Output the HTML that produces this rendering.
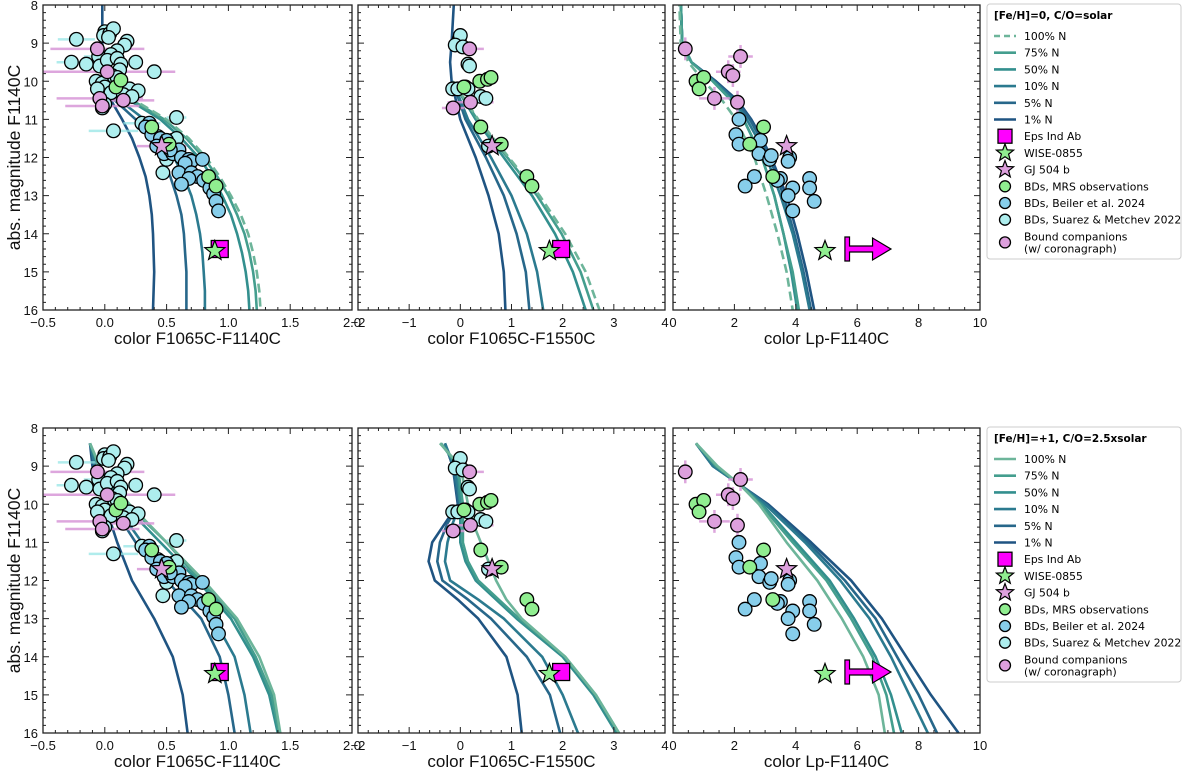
<!DOCTYPE html>
<html><head><meta charset="utf-8">
<style>
html,body{margin:0;padding:0;background:#fff;}
svg{display:block;font-family:"Liberation Sans","DejaVu Sans",sans-serif;}
</style></head>
<body>
<svg id="fig" width="1183" height="773" viewBox="0 0 1183 773" xmlns="http://www.w3.org/2000/svg"></svg>
<script>
// ---------- DATA ----------
const modelLabels = ["100% N","75% N","50% N","10% N","5% N","1% N"];
const modelColors = ["#6db59a","#449e8e","#338f8e","#2b7a8f","#27678a","#1f5482"];

// Top row models (solar)
const t1Mag = [10,10.5,11,11.5,12,12.5,13,13.5,14,14.5,15,15.5,16];
const t1C100 = [0.0,0.24,0.5,0.68,0.82,0.93,1.02,1.1,1.16,1.2,1.23,1.25,1.26];
const t1C75  = [0.0,0.22,0.48,0.66,0.8,0.91,1.0,1.07,1.13,1.17,1.2,1.22,1.23];
const t1C50  = [0.0,0.2,0.45,0.62,0.76,0.87,0.95,1.02,1.07,1.11,1.14,1.16,1.17];
const t1C10  = [0.0,0.12,0.32,0.46,0.56,0.64,0.7,0.74,0.77,0.79,0.8,0.81,0.81];
const t1C5   = [0.0,0.08,0.25,0.37,0.46,0.53,0.58,0.62,0.64,0.65,0.66,0.66,0.66];
const t1Mag1 = [7.8,9,10,10.5,11,11.5,12,12.5,13,13.5,14,15,16];
const t1C1   = [-0.02,-0.02,0,0.05,0.14,0.22,0.28,0.33,0.36,0.38,0.39,0.4,0.39];

const t2Mag = [10,11,12,13,14,15,16];
const t2C100 = [-0.15,0.35,0.95,1.55,2.05,2.45,2.72];
const t2C75  = [-0.15,0.33,0.92,1.5,1.98,2.35,2.6];
const t2C50  = [-0.15,0.3,0.85,1.4,1.85,2.2,2.45];
const t2C10  = [-0.15,0.15,0.6,1.0,1.3,1.5,1.62];
const t2C5   = [-0.15,0.1,0.5,0.85,1.1,1.28,1.35];
const t2Mag1 = [7.8,9,9.5,10,11,12,13,14,15,16];
const t2C1   = [-0.12,-0.17,-0.2,-0.17,0.0,0.3,0.55,0.75,0.85,0.88];

const t3Mag = [7.8,9,9.5,10,10.5,11,11.5,12,13,14,15,16];
const t3C100 = [0.2,0.25,0.5,1.0,1.6,2.05,2.35,2.65,3.05,3.4,3.7,3.9];
const t3C75  = [0.25,0.3,0.6,1.3,1.9,2.3,2.6,2.9,3.3,3.6,3.9,4.1];
const t3C50  = [0.25,0.3,0.6,1.3,1.9,2.3,2.6,2.9,3.3,3.6,3.85,4.05];
const t3C10  = [0.25,0.3,0.6,1.35,2.0,2.4,2.75,3.05,3.5,3.9,4.2,4.45];
const t3C5   = [0.25,0.3,0.6,1.35,2.05,2.5,2.85,3.15,3.6,3.95,4.25,4.5];
const t3C1   = [0.25,0.3,0.6,1.4,2.1,2.55,2.9,3.2,3.7,4.05,4.35,4.6];

// Bottom row models (+1, 2.5x solar)
const b1Mag = [8.4,9,10,11,12,13,14,15,16];
const b1C100 = [-0.12,-0.04,0.2,0.5,0.8,1.07,1.25,1.37,1.42];
const b1C75  = [-0.12,-0.05,0.18,0.5,0.77,1.05,1.22,1.35,1.41];
const b1C50  = [-0.12,-0.05,0.15,0.45,0.75,1.02,1.2,1.33,1.4];
const b1C10  = [-0.12,-0.08,0.08,0.3,0.58,0.88,1.05,1.13,1.18];
const b1C5   = [-0.12,-0.08,0.05,0.25,0.5,0.78,0.93,1.0,1.05];
const b1C1   = [-0.12,-0.1,0.0,0.1,0.22,0.4,0.55,0.63,0.67];

const b2Mag = [8.4,9,10,10.5,11,11.5,12,12.5,13,14,15,16];
const b2C100 = [-0.4,0.0,0.15,0.25,0.4,0.55,0.7,0.9,1.2,2.05,2.65,3.1];
const b2C75  = [-0.38,-0.05,0.05,0.05,0.05,0.15,0.35,0.75,1.15,2.05,2.65,3.1];
const b2C50  = [-0.38,-0.05,0.0,0.0,0.0,0.1,0.3,0.7,1.1,2.0,2.6,3.05];
const b2C10  = [-0.3,-0.12,0.0,-0.15,-0.25,-0.3,-0.2,0.35,0.85,1.6,2.0,2.3];
const b2C5   = [-0.3,-0.15,-0.03,-0.25,-0.4,-0.45,-0.35,0.15,0.6,1.3,1.75,1.95];
const b2C1   = [-0.3,-0.15,-0.05,-0.3,-0.55,-0.62,-0.5,-0.05,0.35,0.9,1.12,1.2];

const b3Mag = [8.4,9,9.5,10,11,12,13,14,15,16];
const b3C100 = [0.75,1.45,2.2,2.8,3.7,4.7,5.5,6.2,6.7,6.9];
const b3C75  = [0.75,1.4,2.2,2.85,3.9,5.0,5.8,6.5,6.95,7.2];
const b3C50  = [0.75,1.4,2.2,2.9,4.0,5.1,5.9,6.6,7.1,7.45];
const b3C10  = [0.75,1.3,2.2,3.0,4.3,5.45,6.4,7.1,7.7,8.3];
const b3C5   = [0.75,1.3,2.2,3.05,4.4,5.6,6.6,7.3,8.0,8.6];
const b3C1   = [0.75,1.3,2.2,3.1,4.5,5.8,6.8,7.6,8.4,9.3];

// Observations: panel 1 (F1065C-F1140C)
const p1SuarezX = [0.0,-0.01,0.04,0.07,0.03,-0.23,0.18,0.16,0.1,-0.05,0.05,-0.27,-0.15,-0.04,0.02,0.1,0.13,0.25,0.12,0.4,0.06,0.1,-0.07,-0.02,0.0,0.12,0.2,0.27,-0.06,0.05,0.15,0.22,0.0,-0.02,0.07,0.58,0.3,0.55,0.58,0.43,0.5,0.47];
const p1SuarezY = [8.7,8.8,8.75,8.62,8.85,8.9,8.95,9.05,9.2,9.35,9.3,9.5,9.55,9.6,9.45,9.4,9.55,9.5,9.7,9.75,9.85,9.9,10.0,10.05,10.15,10.1,10.2,10.25,10.2,10.3,10.35,10.4,10.6,10.7,11.3,10.95,11.1,11.55,11.5,11.45,12.05,12.4];
const p1SuarezErr = [0,0,0,0,0,0.15,0,0,0,0.12,0,0.12,0,0,0,0,0,0,0,0,0,0,0,0,0,0,0,0,0,0,0,0,0,0,0.2,0.08,0.15,0.08,0,0,0,0];
const p1BeilerX = [0.36,0.33,0.38,0.45,0.5,0.42,0.48,0.55,0.6,0.62,0.68,0.7,0.79,0.65,0.6,0.7,0.75,0.68,0.8,0.62,0.85,0.88,0.9,0.92,0.53];
const p1BeilerY = [11.1,11.2,11.4,11.5,11.55,11.7,11.9,11.9,11.8,12.0,12.05,12.1,12.05,12.15,12.4,12.4,12.5,12.55,12.6,12.7,12.8,12.95,13.15,13.4,11.8];
const p1MrsX = [0.09,0.13,0.38,0.52,0.84,0.9];
const p1MrsY = [10.15,9.97,11.2,11.65,12.5,12.75];
const p1BoundX = [-0.06,0.02,-0.04,-0.02,0.15];
const p1BoundY = [9.15,9.75,10.45,10.65,10.5];
const p1BoundErr = [0.38,0.55,0.35,0.3,0.25];
const p1GjX = [0.46], p1GjY = [11.7], p1GjErr = [0.2];
const p1EpsX = [0.93], p1EpsY = [14.4];
const p1WiseX = [0.89], p1WiseY = [14.45];

// panel 2 (F1065C-F1550C)
const p2SuarezX = [-0.02,0.0,-0.1,0.05,0.15,0.18,-0.15,-0.05,0.1,0.15,0.4,0.5,0.55];
const p2SuarezY = [8.9,8.8,9.05,9.1,9.55,9.6,10.2,10.2,10.15,10.2,10.4,10.45,11.7];
const p2MrsX = [0.38,0.53,0.6,0.07,0.4,0.8,1.3,1.4];
const p2MrsY = [10.0,9.95,9.9,10.15,11.2,11.65,12.5,12.75];
const p2BoundX = [0.18,0.2,-0.14];
const p2BoundY = [9.15,10.55,10.7];
const p2BoundErr = [0.28,0.45,0.22];
const p2GjX = [0.62], p2GjY = [11.7];
const p2EpsX = [1.97], p2EpsY = [14.4];
const p2WiseX = [1.74], p2WiseY = [14.45];

// panel 3 (Lp-F1140C)
const p3BeilerX = [2.15,2.05,2.15,2.85,2.8,3.15,3.2,3.8,2.65,3.5,3.4,2.35,3.9,3.75,4.45,4.45,4.6,3.9,3.75];
const p3BeilerY = [11.0,11.4,11.65,11.55,11.9,12.05,11.95,12.0,12.5,12.55,12.6,12.75,12.8,13.0,12.55,12.8,13.15,13.4,12.1];
const p3MrsX = [0.75,1.0,0.85,2.95,2.5,3.25];
const p3MrsY = [10.0,9.9,10.2,11.2,11.65,12.5];
const p3BoundX = [0.4,2.2,1.8,1.95,1.35,2.1];
const p3BoundY = [9.15,9.35,9.75,9.85,10.45,10.55];
const p3BoundErr = [0.1,0.4,0.4,0.1,0.5,0.1];
const p3GjX = [3.7], p3GjY = [11.7];
const p3WiseX = [4.95], p3WiseY = [14.45];
const p3EpsLimX = [5.6], p3EpsLimY = [14.4];

const xTicks1 = ["-0.5","0.0","0.5","1.0","1.5","2.0"];
const xTicks2 = ["-2","-1","0","1","2","3","4"];
const xTicks3 = ["0","2","4","6","8","10"];
const yTicks = ["8","9","10","11","12","13","14","15","16"];

// ---------- DRAW ----------
const NS="http://www.w3.org/2000/svg";
const svg=document.getElementById('fig');
function mk(tag,attrs,parent){const e=document.createElementNS(NS,tag);for(const k in attrs)e.setAttribute(k,attrs[k]);(parent||svg).appendChild(e);return e;}

const cols=[{x0:43,x1:352,min:-0.5,max:2,maj:0.5,mn:0.1,ticks:xTicks1,label:"color F1065C-F1140C"},
            {x0:358,x1:665,min:-2,max:4,maj:1,mn:0.2,ticks:xTicks2,label:"color F1065C-F1550C"},
            {x0:673,x1:980,min:0,max:10,maj:2,mn:0.5,ticks:xTicks3,label:"color Lp-F1140C"}];
const rows=[{y0:5,y1:310},{y0:428,y1:733}];

function sx(c,v){return c.x0+(v-c.min)/(c.max-c.min)*(c.x1-c.x0);}
function sy(r,v){return r.y0+(v-8)/8*(r.y1-r.y0);}

function drawModel(g,c,r,xs,ys,i,dashed){
  let d='';
  for(let k=0;k<xs.length;k++){d+=(k?'L':'M')+sx(c,xs[k]).toFixed(1)+','+sy(r,ys[k]).toFixed(1);}
  const p=mk('path',{d:d,fill:'none',stroke:modelColors[i],'stroke-width':2.6,'stroke-linejoin':'round'},g);
  if(dashed)p.setAttribute('stroke-dasharray','9,5');
  
  
}
function errX(g,c,r,x,y,e,color){
  const l=mk('line',{x1:sx(c,x-e),x2:sx(c,x+e),y1:sy(r,y),y2:sy(r,y),stroke:color,'stroke-width':2.5},g);
  
  
}
function circles(g,c,r,xs,ys,fill,name){
  for(let k=0;k<xs.length;k++){
    const e=mk('circle',{cx:sx(c,xs[k]),cy:sy(r,ys[k]),r:6.8,fill:fill,stroke:'#000','stroke-width':1.3},g);
    
    
  }
}
function starPath(cx,cy,R){
  let d='';for(let k=0;k<10;k++){const rr=k%2?R*0.42:R;const a=-Math.PI/2+k*Math.PI/5;d+=(k?'L':'M')+(cx+rr*Math.cos(a)).toFixed(1)+','+(cy+rr*Math.sin(a)).toFixed(1);}return d+'Z';
}
function star(g,cx,cy,fill,name,R){
  const e=mk('path',{d:starPath(cx,cy,R||10.5),fill:fill,stroke:'#000','stroke-width':1.2},g);
  
  
}
function square(g,cx,cy,name,s){
  s=s||17;
  const e=mk('rect',{x:cx-s/2,y:cy-s/2,width:s,height:s,fill:'#ff00ff',stroke:'#000','stroke-width':1.3},g);
  
  
}

const models=[
 [[t1C100,t1Mag],[t1C75,t1Mag],[t1C50,t1Mag],[t1C10,t1Mag],[t1C5,t1Mag],[t1C1,t1Mag1]],
 [[t2C100,t2Mag],[t2C75,t2Mag],[t2C50,t2Mag],[t2C10,t2Mag],[t2C5,t2Mag],[t2C1,t2Mag1]],
 [[t3C100,t3Mag],[t3C75,t3Mag],[t3C50,t3Mag],[t3C10,t3Mag],[t3C5,t3Mag],[t3C1,t3Mag]],
 [[b1C100,b1Mag],[b1C75,b1Mag],[b1C50,b1Mag],[b1C10,b1Mag],[b1C5,b1Mag],[b1C1,b1Mag]],
 [[b2C100,b2Mag],[b2C75,b2Mag],[b2C50,b2Mag],[b2C10,b2Mag],[b2C5,b2Mag],[b2C1,b2Mag]],
 [[b3C100,b3Mag],[b3C75,b3Mag],[b3C50,b3Mag],[b3C10,b3Mag],[b3C5,b3Mag],[b3C1,b3Mag]]
];

const defs=mk('defs',{});
for(let ri=0;ri<2;ri++){
 for(let ci=0;ci<3;ci++){
  const c=cols[ci],r=rows[ri];
  const id='clip'+ri+ci;
  const cp=mk('clipPath',{id:id},defs);
  mk('rect',{x:c.x0,y:r.y0,width:c.x1-c.x0,height:r.y1-r.y0},cp);
  const panel=mk('g',{});
  
  
  const g=mk('g',{'clip-path':'url(#'+id+')'},panel);
  const ms=models[ri*3+ci];
  for(let i=5;i>=0;i--){drawModel(g,c,r,ms[i][0],ms[i][1],i,(ri===0&&i===0));}
  const cyanE='rgba(150,230,230,0.75)', pinkE='rgba(215,150,215,0.85)';
  if(ci===0){
    for(let k=0;k<p1SuarezX.length;k++) if(p1SuarezErr[k]>0) errX(g,c,r,p1SuarezX[k],p1SuarezY[k],p1SuarezErr[k],cyanE);
    for(let k=0;k<p1BoundX.length;k++) errX(g,c,r,p1BoundX[k],p1BoundY[k],p1BoundErr[k],pinkE);
    errX(g,c,r,p1GjX[0],p1GjY[0],p1GjErr[0],pinkE);
    circles(g,c,r,p1SuarezX,p1SuarezY,'#aeeeee','bd-suarez-point');
    circles(g,c,r,p1BeilerX,p1BeilerY,'#87ceeb','bd-beiler-point');
    circles(g,c,r,p1BoundX,p1BoundY,'#dda0dd','bound-companion-point');
    circles(g,c,r,p1MrsX,p1MrsY,'#90ee90','bd-mrs-point');
    star(g,sx(c,p1GjX[0]),sy(r,p1GjY[0]),'#dda0dd','gj504b-star');
    square(g,sx(c,p1EpsX[0]),sy(r,p1EpsY[0]),'eps-ind-ab-square');
    star(g,sx(c,p1WiseX[0]),sy(r,p1WiseY[0]),'#90ee90','wise0855-star');
  } else if(ci===1){
    for(let k=0;k<p2BoundX.length;k++) errX(g,c,r,p2BoundX[k],p2BoundY[k],p2BoundErr[k],pinkE);
    circles(g,c,r,p2SuarezX,p2SuarezY,'#aeeeee','bd-suarez-point');
    circles(g,c,r,p2BoundX,p2BoundY,'#dda0dd','bound-companion-point');
    circles(g,c,r,p2MrsX,p2MrsY,'#90ee90','bd-mrs-point');
    star(g,sx(c,p2GjX[0]),sy(r,p2GjY[0]),'#dda0dd','gj504b-star');
    square(g,sx(c,p2EpsX[0]),sy(r,p2EpsY[0]),'eps-ind-ab-square');
    star(g,sx(c,p2WiseX[0]),sy(r,p2WiseY[0]),'#90ee90','wise0855-star');
  } else {
    for(let k=0;k<p3BoundX.length;k++){
      errX(g,c,r,p3BoundX[k],p3BoundY[k],p3BoundErr[k],pinkE);
      const l=mk('line',{x1:sx(c,p3BoundX[k]),x2:sx(c,p3BoundX[k]),y1:sy(r,p3BoundY[k]-0.3),y2:sy(r,p3BoundY[k]+0.3),stroke:pinkE,'stroke-width':2.5},g);
      
      
    }
    circles(g,c,r,p3BeilerX,p3BeilerY,'#87ceeb','bd-beiler-point');
    circles(g,c,r,p3BoundX,p3BoundY,'#dda0dd','bound-companion-point');
    circles(g,c,r,p3MrsX,p3MrsY,'#90ee90','bd-mrs-point');
    star(g,sx(c,p3GjX[0]),sy(r,p3GjY[0]),'#dda0dd','gj504b-star');
    star(g,sx(c,p3WiseX[0]),sy(r,p3WiseY[0]),'#90ee90','wise0855-star');
    const ax=sx(c,p3EpsLimX[0]), ay=sy(r,p3EpsLimY[0]);
    const unit=(c.x1-c.x0)/(c.max-c.min);
    const bw=0.15*unit, shaftEnd=ax+0.9*unit, tip=ax+1.5*unit;
    const d='M'+ax+','+(ay-12)+'L'+(ax+bw)+','+(ay-12)+'L'+(ax+bw)+','+(ay-3)+'L'+shaftEnd+','+(ay-3)+'L'+shaftEnd+','+(ay-11)+'L'+tip+','+ay+'L'+shaftEnd+','+(ay+11)+'L'+shaftEnd+','+(ay+3)+'L'+(ax+bw)+','+(ay+3)+'L'+(ax+bw)+','+(ay+12)+'L'+ax+','+(ay+12)+'Z';
    const a=mk('path',{d:d,fill:'#ff00ff',stroke:'#000','stroke-width':1.2},g);
    
    
  }
  const f=mk('rect',{x:c.x0,y:r.y0,width:c.x1-c.x0,height:r.y1-r.y0,fill:'none',stroke:'#222','stroke-width':1.3},panel);
  
  
  const tg=mk('g',{stroke:'#222','stroke-width':1},panel);
  for(let v=c.min;v<=c.max+1e-9;v+=c.mn){
    const isMaj=Math.abs(v/c.maj-Math.round(v/c.maj))<1e-6;const L=isMaj?6:3;const x=sx(c,v);
    mk('line',{x1:x,x2:x,y1:r.y1,y2:r.y1-L},tg);mk('line',{x1:x,x2:x,y1:r.y0,y2:r.y0+L},tg);
  }
  for(let v=8;v<=16+1e-9;v+=0.2){
    const isMaj=Math.abs(v-Math.round(v))<1e-6;const L=isMaj?6:3;const y=sy(r,v);
    mk('line',{x1:c.x0,x2:c.x0+L,y1:y,y2:y},tg);mk('line',{x1:c.x1,x2:c.x1-L,y1:y,y2:y},tg);
  }
  for(let k=0;k<c.ticks.length;k++){
    const v=c.min+k*c.maj;
    const t=mk('text',{x:sx(c,v),y:r.y1+17,'font-size':13,'text-anchor':'middle',fill:'#111'},panel);
    t.textContent=c.ticks[k].replace('-','\u2212');
    
    
  }
  const xl=mk('text',{x:(c.x0+c.x1)/2,y:r.y1+34,'font-size':17,'text-anchor':'middle',fill:'#111'},panel);
  xl.textContent=c.label;
  
  
  if(ci===0){
    for(let k=0;k<yTicks.length;k++){
      const t=mk('text',{x:c.x0-5,y:sy(r,8+k)+5,'font-size':13,'text-anchor':'end',fill:'#111'},panel);
      t.textContent=yTicks[k];
      
      
    }
    const ym=(r.y0+r.y1)/2;
    const yl=mk('text',{x:14,y:ym,'font-size':17.5,'text-anchor':'middle',fill:'#111',transform:'rotate(-90 14 '+ym+') translate(0,6)'},panel);
    yl.textContent='abs. magnitude F1140C';
    
    
  }
 }
}

// ---------- LEGENDS ----------
const legendTitles=["[Fe/H]=0, C/O=solar","[Fe/H]=+1, C/O=2.5xsolar"];
const legendTops=[4,427];
const obsLabels=["Eps Ind Ab","WISE-0855","GJ 504 b","BDs, MRS observations","BDs, Beiler et al. 2024","BDs, Suarez & Metchev 2022"];
const LF='"DejaVu Sans","Liberation Sans",sans-serif';
for(let li=0;li<2;li++){
  const y0=legendTops[li];
  const lg=mk('g',{'font-family':LF});
  
  
  mk('rect',{x:987,y:y0,width:194,height:255,rx:3,fill:'#fff',stroke:'#ccc','stroke-width':1},lg);
  const tt=mk('text',{x:994,y:y0+15,'font-size':10.5,'font-weight':'bold',fill:'#000'},lg);
  tt.textContent=legendTitles[li];
  
  
  const step=16.7;
  for(let i=0;i<6;i++){
    const yy=y0+32+i*step;
    const ln=mk('line',{x1:994,x2:1016,y1:yy,y2:yy,stroke:modelColors[i],'stroke-width':2.6},lg);
    if(li===0&&i===0)ln.setAttribute('stroke-dasharray','6,4');
    
    
    const t=mk('text',{x:1024,y:yy+4,'font-size':10.8,fill:'#000'},lg);
    t.textContent=modelLabels[i];
    
    
  }
  for(let i=0;i<6;i++){
    const yy=y0+32+(6+i)*step;
    if(i===0)square(lg,1005,yy,'legend-eps-ind-ab',14);
    else if(i===1)star(lg,1005,yy,'#90ee90','legend-wise0855',9);
    else if(i===2)star(lg,1005,yy,'#dda0dd','legend-gj504b',9);
    else{
      const cc=['#90ee90','#87ceeb','#aeeeee'][i-3];
      const e=mk('circle',{cx:1005,cy:yy,r:5.5,fill:cc,stroke:'#000','stroke-width':1.3},lg);
      
      
    }
    const t=mk('text',{x:1024,y:yy+4,'font-size':10.8,fill:'#000'},lg);
    t.textContent=obsLabels[i];
    
    
  }
  const yb=y0+32+12*step+6;
  const e=mk('circle',{cx:1005,cy:yb,r:5.5,fill:'#dda0dd',stroke:'#000','stroke-width':1.3},lg);
  
  
  const t1=mk('text',{x:1024,y:yb-2,'font-size':10.8,fill:'#000'},lg);
  t1.textContent='Bound companions';
  
  
  const t2=mk('text',{x:1024,y:yb+10,'font-size':10.8,fill:'#000'},lg);
  t2.textContent='(w/ coronagraph)';
  
  
}
</script>
</body></html>
